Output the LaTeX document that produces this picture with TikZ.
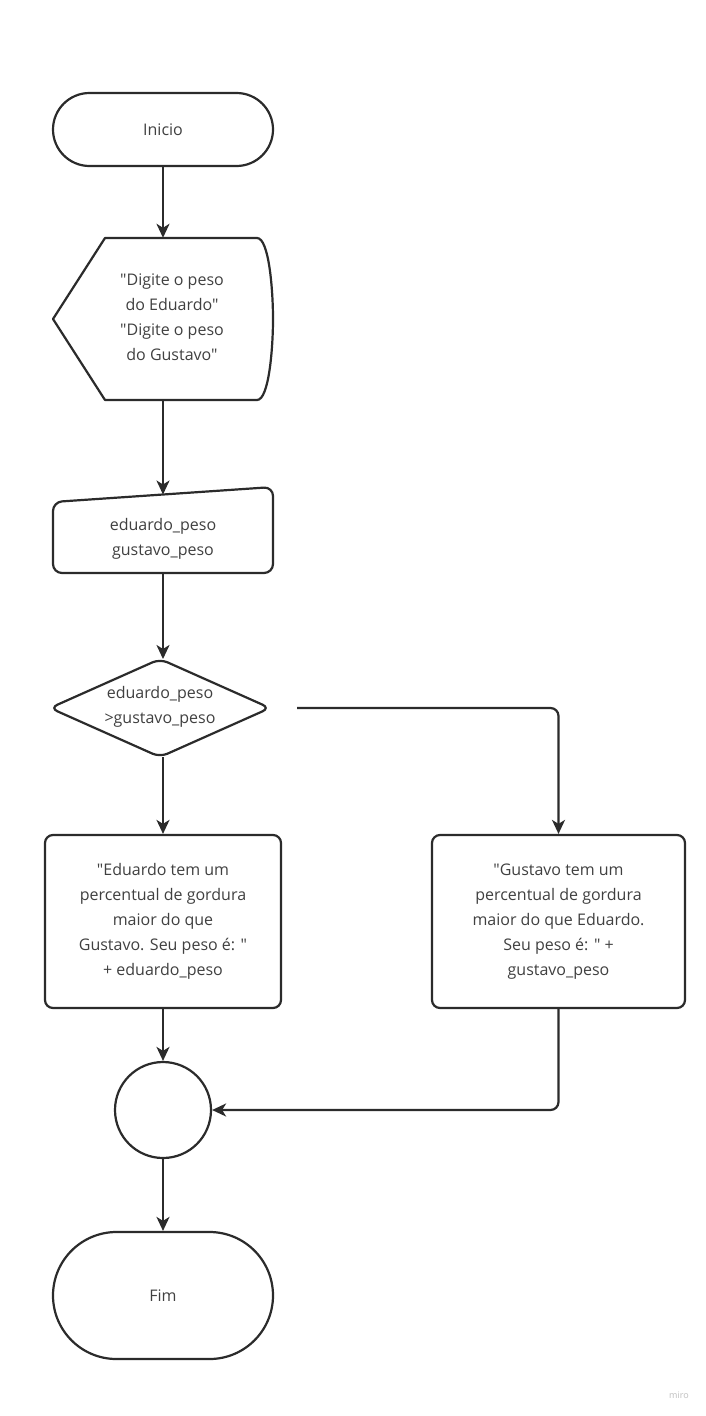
\documentclass[tikz,border=0pt]{standalone}
\usepackage{fontspec}
\setmainfont{Open Sans}[Ligatures=TeXOff]
\usetikzlibrary{arrows.meta,shapes.geometric,shapes.misc}
\definecolor{ink}{HTML}{2B2B2B}
\definecolor{txt}{HTML}{404040}
\begin{document}
\begin{tikzpicture}[x=1pt,y=-1pt,
  every node/.style={font=\fontsize{16}{25}\selectfont, text=txt, align=center, inner sep=0pt},
  outline/.style={draw=ink, line width=2.2pt},
  terminal/.style={outline, rounded rectangle, minimum width=220pt},
  procbox/.style={outline, rounded corners=8pt},
  flow/.style={draw=ink, line width=2.2pt, -{Stealth[length=14pt,width=13pt,inset=4pt]}},
  elbow/.style={flow, rounded corners=8pt}]
\useasboundingbox[fill=white] (0,0) rectangle (706,1416);

% start
\node[terminal, minimum height=73pt] (start) at (163,129.5) {Inicio};

% display prompts
\node[minimum width=220pt, minimum height=162pt] (disp) at (163,319) {};
\draw[outline, line join=round] (105,238) -- (257,238)
  .. controls (269,238) and (273,290) .. (273,319)
  .. controls (273,348) and (269,400) .. (257,400) -- (105,400) -- (53,319) -- cycle;
\node at (172,317) {"Digite o peso\\do Eduardo"\\"Digite o peso\\do Gustavo"};

% manual input
\node (inp) at (163,539) {eduardo\_peso\\gustavo\_peso};
\draw[outline, rounded corners=9pt] (163,573) -- (53,573) -- (53,502) -- (273,487) -- (273,573) -- (163,573);
\coordinate (inptop) at (163,494.5);
\coordinate (inpbot) at (163,573);

% decision
\node (dec) at (160,707) {eduardo\_peso\\>gustavo\_peso};
\draw[outline, rounded corners=8pt] (105,683.5) -- (160,659) -- (270,708) -- (160,757) -- (50,708) -- (105,683.5);
\coordinate (dectop) at (163,659);
\coordinate (decbot) at (163,757);
\coordinate (decright) at (297,708);

% outputs
\node[procbox, minimum width=236pt, minimum height=173pt] (lbox) at (163,921.5)
  {"Eduardo tem um\\percentual de gordura\\maior do que\\Gustavo. Seu peso é: "\\+ eduardo\_peso};
\node[procbox, minimum width=253pt, minimum height=173pt] (rbox) at (558.5,921.5)
  {"Gustavo tem um\\percentual de gordura\\maior do que Eduardo.\\Seu peso é: " +\\gustavo\_peso};

% connector
\node[outline, circle, minimum size=96pt] (join) at (163,1110) {};

% end
\node[terminal, minimum height=127pt] (stop) at (163,1295.5) {Fim};

% flow lines
\draw[flow] (start.south) -- (disp.north);
\draw[flow] (disp.south) -- (inptop);
\draw[flow] (inpbot) -- (dectop);
\draw[flow] (decbot) -- (lbox.north);
\draw[elbow] (decright) -| (rbox.north);
\draw[flow] (lbox.south) -- (join.north);
\draw[elbow] (rbox.south) |- (join.east);
\draw[flow] (join.south) -- (stop.north);

% watermark
\node[font=\fontsize{9}{11}\selectfont, text=black!25] (mark) at (679,1395) {miro};
\end{tikzpicture}
\end{document}
